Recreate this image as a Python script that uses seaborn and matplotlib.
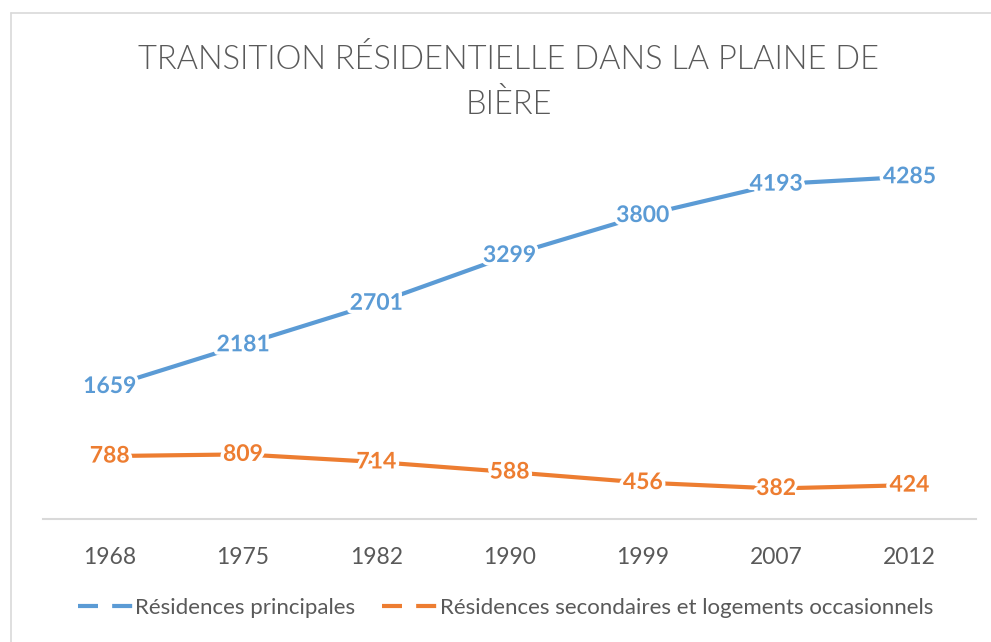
import pandas as pd
import matplotlib.pyplot as plt
import matplotlib.patheffects as pe
from matplotlib.lines import Line2D
import seaborn as sns

years = ['1968', '1975', '1982', '1990', '1999', '2007', '2012']
principales = [1659, 2181, 2701, 3299, 3800, 4193, 4285]
secondaires = [788, 809, 714, 588, 456, 382, 424]
series_names = ['Résidences principales',
                'Résidences secondaires et logements occasionnels']
colors = ['#5B9BD5', '#ED7D31']
title = "TRANSITION RÉSIDENTIELLE DANS LA PLAINE DE\nBIÈRE"


def main():
    sns.set_style("white")
    plt.rcParams['font.family'] = ['Lato', 'DejaVu Sans']

    df = pd.DataFrame({
        'year': years * 2,
        'value': principales + secondaires,
        'series': [series_names[0]] * len(years) + [series_names[1]] * len(years),
    })

    fig = plt.figure(figsize=(9.91, 6.42), dpi=100)
    ax = fig.add_axes([0.0434, 0.1916, 0.9415, 0.622])

    sns.lineplot(data=df, x='year', y='value', hue='series', palette=colors,
                 linewidth=3, sort=False, legend=False, ax=ax)

    # data labels centred on the points
    for vals, col in zip([principales, secondaires], colors):
        for i, v in enumerate(vals):
            ax.text(i, v, str(v), ha='center', va='center', color=col,
                    fontsize=16.5, fontweight='bold',
                    path_effects=[pe.withStroke(linewidth=5, foreground='white')])

    ax.set_xlim(-0.5, len(years) - 0.5)
    ax.set_ylim(0, 5000)
    ax.set_yticks([])
    ax.set_xlabel('')
    ax.set_ylabel('')
    for s in ['top', 'right', 'left']:
        ax.spines[s].set_visible(False)
    ax.spines['bottom'].set_color('#D9D9D9')
    ax.spines['bottom'].set_linewidth(1.5)
    ax.tick_params(axis='x', length=0, pad=20, labelsize=16.5, labelcolor='#595959')

    fig.text(0.513, 1 - 82 / 642, title, ha='center', va='center',
             fontsize=23.5, fontweight=300, color='#595959', linespacing=1.55)

    handles = [Line2D([], [], color=c, lw=3, linestyle=(0, (4.8, 3.4)))
               for c in colors]
    fig.legend(handles, series_names, loc='center', bbox_to_anchor=(0.51, 0.053),
               ncol=2, frameon=False, fontsize=16, handlelength=2.5,
               handletextpad=0.1, columnspacing=1.2, labelcolor='#595959')

    # chart frame (partly cropped in the original)
    fig.add_artist(Line2D([0.0106, 0.0106], [0, 0.9805], color='#D9D9D9', lw=1.2,
                          transform=fig.transFigure))
    fig.add_artist(Line2D([0.0106, 1], [0.9805, 0.9805], color='#D9D9D9', lw=1.2,
                          transform=fig.transFigure))

    fig.savefig('out.png', dpi=100)


if __name__ == "__main__":
    main()
